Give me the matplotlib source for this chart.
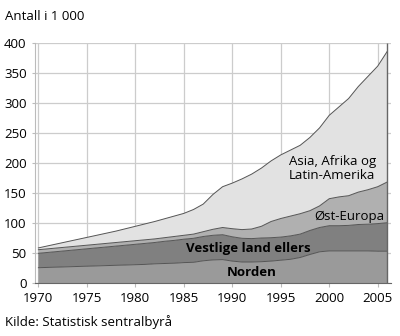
import numpy as np
import matplotlib
matplotlib.use("Agg")
from matplotlib import pyplot as plt

plt.rcParams['font.family'] = ['Open Sans', 'DejaVu Sans']

# years and cumulative tops (1000 persons)
years = list(range(1970, 2007))
norden = [26, 26.5, 27, 27.5, 28, 28.5, 29, 29.5, 30, 30.5, 31, 31.5, 32.5, 33, 33.5, 34.5, 35, 37.5, 39, 39.5,
          37, 35.5, 35.5, 36, 37, 38.5, 40, 43, 48, 52.5, 54, 54, 54, 54, 54, 53.5, 53.5]
vestlige_top = [50, 51.5, 53, 54.5, 56, 57.5, 59, 60.5, 62, 63.5, 65, 66.5, 68, 70, 71.5, 73.5, 75, 78, 80, 81,
                77.5, 75, 74.5, 75.5, 76, 77, 79, 82, 88, 93, 96, 96, 96.5, 98, 98.5, 99.5, 101]
ost_top = [56, 57.5, 59, 60.5, 62, 63.5, 65, 66.5, 68, 69.5, 71, 72.5, 74, 76, 78, 80, 82, 86, 90, 93,
           91, 89.5, 90.5, 95, 103, 108, 112, 116, 121, 129, 141, 144, 146, 152, 156, 161, 169]
total = [59, 62.5, 66, 69.5, 73, 76.5, 80, 83.5, 87, 91, 95, 99, 103, 107.5, 112, 116.5, 123, 132, 148, 161,
         167, 174, 182, 192, 204, 214, 222, 230, 243, 259, 280, 294, 308, 328, 345, 362, 387]
xticks = [1970, 1975, 1980, 1985, 1990, 1995, 2000, 2005]
yticks = [0, 50, 100, 150, 200, 250, 300, 350, 400]

fig = plt.figure(figsize=(4, 3.36), dpi=100)
ax = fig.add_axes([35/400, 1-283.3/336, 356/400, 240/336])

x = np.array(years)
layers = [(np.zeros(len(x)), norden, '#9a9a9a'),
          (norden, vestlige_top, '#808080'),
          (vestlige_top, ost_top, '#b0b0b0'),
          (ost_top, total, '#e2e2e2')]
for lo, hi, col in layers:
    ax.fill_between(x, lo, hi, facecolor=col, edgecolor='none', zorder=2)
    ax.plot(x, hi, color='#555555', lw=0.7, zorder=3)
ax.vlines(2006, 0, 400, color='#666666', lw=1.0, zorder=3)

ax.set_xlim(1969.65, 2006.37)
ax.set_ylim(0, 400)
ax.set_xticks(xticks)
ax.set_yticks(yticks)
ax.grid(True, color='#cccccc', lw=0.9, zorder=0)
ax.set_axisbelow(True)
for s in ['top', 'right']:
    ax.spines[s].set_visible(False)
ax.spines['left'].set_color('#bbbbbb')
ax.spines['bottom'].set_color('#666666')
ax.tick_params(axis='y', length=2, color='#bbbbbb', labelsize=9.5, pad=4)
ax.tick_params(axis='x', length=3, color='#bbbbbb', labelsize=9.5, pad=3)

ax.text(1992, 18, 'Norden', fontweight='bold', fontsize=9.5, ha='center', va='center', zorder=4)
ax.text(1991.7, 58, 'Vestlige land ellers', fontweight='bold', fontsize=9.5, ha='center', va='center', zorder=4)
ax.text(2002.1, 112, 'Øst-Europa', fontsize=9.5, ha='center', va='center', zorder=4)
ax.text(1995.8, 191, 'Asia, Afrika og\nLatin-Amerika', fontsize=9.5, ha='left', va='center',
        linespacing=1.1, zorder=4)

fig.text(5/400, 1-17/336, 'Antall i 1 000', fontsize=9.5, ha='left', va='center')
fig.text(5/400, 1-322/336, 'Kilde: Statistisk sentralbyrå', fontsize=9.5, ha='left', va='center')

fig.savefig('out.png', dpi=100)
